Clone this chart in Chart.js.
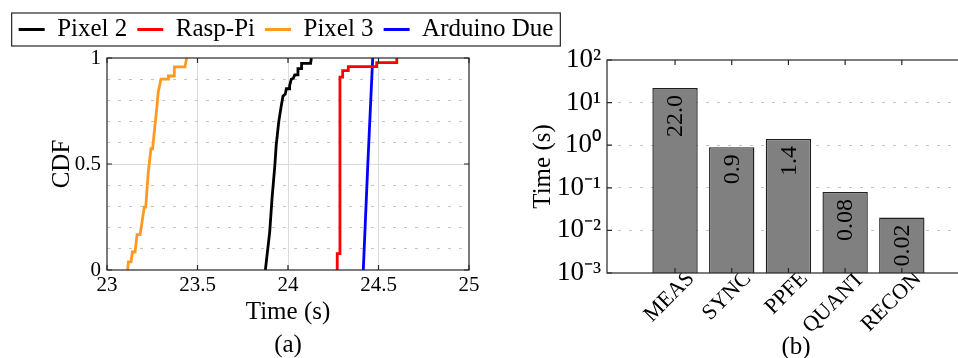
<!DOCTYPE html>
<html>
<head>
<meta charset="utf-8">
<script src="https://cdn.jsdelivr.net/npm/chart.js@4.4.1/dist/chart.umd.min.js"></script>
<style>
  html, body { margin: 0; padding: 0; background: #fff; overflow: hidden; }
  #wrap { position: relative; width: 958px; height: 358px; overflow: hidden; }
  #cdfBox { position: absolute; left: 0; top: 0; width: 572px; height: 358px; z-index: 2; }
  #barBox { position: absolute; left: 520px; top: 0; width: 465px; height: 358px; z-index: 1; }
</style>
</head>
<body>
<div id="wrap">
  <div id="barBox"><canvas id="barChart"></canvas></div>
  <div id="cdfBox"><canvas id="cdfChart"></canvas></div>
</div>
<script>
// ---- (a) completion-time CDF per device: staircase vertices (time in s, cumulative fraction)
const pixel2Time = [23.875, 23.899, 23.912, 23.927, 23.935, 23.949, 23.960, 23.972, 23.985, 23.991, 24.009, 24.009, 24.018, 24.030, 24.037, 24.051, 24.055, 24.073, 24.075, 24.125, 24.129, 24.133];
const pixel2Cdf  = [0,      0.18,   0.34,   0.49,   0.59,   0.70,   0.76,   0.82,   0.83,   0.855,  0.855,  0.87,   0.90,   0.905,  0.92,   0.92,   0.95,   0.95,   0.975,  0.975,  1.0,    1.0];

const raspPiTime = [24.272, 24.272, 24.287, 24.287, 24.302, 24.302, 24.333, 24.333, 24.490, 24.490, 24.601, 24.601];
const raspPiCdf  = [0,      0.077,  0.077,  0.91,   0.91,   0.94,   0.94,   0.959,  0.959,  0.978,  0.978,  1.0];

const pixel3Time = [23.114, 23.118, 23.133, 23.140, 23.155, 23.166, 23.183, 23.206, 23.214, 23.228, 23.243, 23.252, 23.265, 23.275, 23.283, 23.298, 23.339, 23.339, 23.372, 23.372, 23.431, 23.440];
const pixel3Cdf  = [0,      0.038,  0.038,  0.085,  0.085,  0.167,  0.167,  0.297,  0.297,  0.462,  0.572,  0.572,  0.682,  0.761,  0.840,  0.90,   0.90,   0.915,  0.915,  0.958,  0.958,  1.0];

const arduinoTime = [24.416, 24.441, 24.468];
const arduinoCdf  = [0,      0.5,    1.0];

const cdfXTicks = [23, 23.5, 24, 24.5, 25];
const cdfYTicks = [0, 0.5, 1];

// ---- (b) time spent in each processing stage (s), log axis
const stageNames = ['MEAS', 'SYNC', 'PPFE', 'QUANT', 'RECON'];
const stageTimes = [22.0, 0.9, 1.4, 0.08, 0.02];
const decadeValues = [1e-3, 1e-2, 1e-1, 1e0, 1e1, 1e2];
const decadeLabels = ['10\u207B\u00B3', '10\u207B\u00B2', '10\u207B\u00B9', '10\u2070', '10\u00B9', '10\u00B2'];

const serif = "'Liberation Serif', 'Times New Roman', serif";
const ink = '#262626';
const lineW = 2.8;

function toPoints(xs, ys) {
  return xs.map((x, i) => ({ x: x, y: ys[i] }));
}

function cdfSeries(label, xs, ys, color) {
  return {
    label: label,
    data: toPoints(xs, ys),
    borderColor: color,
    backgroundColor: color,
    pointBorderColor: color,
    pointBackgroundColor: color,
    pointBorderWidth: 3
  };
}

// plot frame + short inward tick marks (matlab style axes)
const boxPlugin = {
  id: 'box',
  afterDatasetsDraw(chart, args, opts) {
    const { ctx, chartArea: a } = chart;
    const len = 5;
    ctx.save();
    ctx.strokeStyle = ink;
    ctx.lineWidth = 1.2;
    ctx.beginPath();
    const xs = chart.scales[opts.x];
    xs.ticks.forEach(t => {
      const px = xs.getPixelForValue(t.value);
      ctx.moveTo(px, a.bottom); ctx.lineTo(px, a.bottom - len);
      ctx.moveTo(px, a.top); ctx.lineTo(px, a.top + len);
    });
    const ys = chart.scales[opts.y];
    ys.ticks.forEach(t => {
      const py = ys.getPixelForValue(t.value);
      ctx.moveTo(a.left, py); ctx.lineTo(a.left + len, py);
      ctx.moveTo(a.right, py); ctx.lineTo(a.right - len, py);
    });
    ctx.stroke();
    ctx.strokeRect(a.left, a.top, a.right - a.left, a.bottom - a.top);
    ctx.restore();
  }
};

// border round the legend entries + extra space below the legend
const legendFrame = {
  id: 'legendFrame',
  beforeUpdate(chart, args, opts) {
    const lg = chart.legend;
    if (lg && !lg._gapAdded) {
      const fit = lg.fit;
      lg.fit = function () { fit.call(this); this.height += opts.gap; };
      lg._gapAdded = true;
    }
  },
  afterDraw(chart, args, opts) {
    const boxes = chart.legend.legendHitBoxes;
    if (!boxes || !boxes.length) return;
    const l = Math.min(...boxes.map(b => b.left));
    const r = Math.max(...boxes.map(b => b.left + b.width));
    const t = Math.min(...boxes.map(b => b.top));
    const bt = Math.max(...boxes.map(b => b.top + b.height));
    const { ctx } = chart;
    ctx.save();
    ctx.strokeStyle = ink;
    ctx.lineWidth = 1.2;
    ctx.strokeRect(l - opts.padX, t - opts.padY, r - l + 2 * opts.padX, bt - t + 2 * opts.padY);
    ctx.restore();
  }
};

// vertical value text inside each bar, hanging from the bar top
const barValues = {
  id: 'barValues',
  afterDatasetsDraw(chart) {
    const { ctx } = chart;
    const meta = chart.getDatasetMeta(0);
    ctx.save();
    ctx.fillStyle = '#000';
    ctx.font = '24px ' + serif;
    ctx.textAlign = 'right';
    ctx.textBaseline = 'middle';
    meta.data.forEach((bar, i) => {
      const v = stageTimes[i];
      const txt = v >= 10 ? v.toFixed(1) : String(v);
      ctx.save();
      ctx.translate(bar.x + 1, bar.y + 7);
      ctx.rotate(-Math.PI / 2);
      ctx.fillText(txt, 0, 0);
      ctx.restore();
    });
    ctx.restore();
  }
};

// ===== (a) CDF =====
new Chart(document.getElementById('cdfChart'), {
  type: 'line',
  data: {
    datasets: [
      cdfSeries('Pixel 2', pixel2Time, pixel2Cdf, '#000000'),
      cdfSeries('Rasp-Pi', raspPiTime, raspPiCdf, '#ff0000'),
      cdfSeries('Pixel 3', pixel3Time, pixel3Cdf, '#ff9922'),
      cdfSeries('Arduino Due', arduinoTime, arduinoCdf, '#0000ff')
    ]
  },
  options: {
    responsive: true,
    maintainAspectRatio: false,
    animation: false,
    elements: { point: { radius: 0 }, line: { borderWidth: lineW, tension: 0 } },
    layout: { padding: { top: 7, left: 0, right: 0, bottom: 0 } },
    plugins: {
      tooltip: { enabled: false },
      legend: {
        position: 'top',
        labels: {
          color: '#000',
          font: { family: serif, size: 25 },
          usePointStyle: true,
          pointStyle: 'line',
          pointStyleWidth: 26,
          padding: 10
        }
      },
      legendFrame: { gap: 6, padX: 7, padY: 4 },
      box: { x: 'x', y: 'y' }
    },
    scales: {
      x: {
        type: 'linear',
        min: 23,
        max: 25,
        afterBuildTicks: s => { s.ticks = cdfXTicks.map(v => ({ value: v })); },
        ticks: { color: '#000', font: { family: serif, size: 21 }, padding: 3, maxRotation: 0, callback: (v, i) => String(cdfXTicks[i]) },
        grid: { color: c => (c.tick && (c.tick.value === 23 || c.tick.value === 25)) ? 'rgba(0,0,0,0)' : '#dcdcdc', drawTicks: false },
        border: { display: false },
        title: {
          display: true,
          text: ['Time (s)', '(a)'],
          color: '#000',
          font: { family: serif, size: 25, lineHeight: 1.32 },
          padding: { top: 0, bottom: -4 }
        },
        afterFit: s => { s.height = 88; }
      },
      y: {
        min: 0,
        max: 1,
        afterBuildTicks: s => { s.ticks = cdfYTicks.map(v => ({ value: v })); },
        ticks: { color: '#000', font: { family: serif, size: 21 }, padding: 6, callback: (v, i) => String(cdfYTicks[i]) },
        grid: { color: c => (c.tick && c.tick.value === 0.5) ? '#dcdcdc' : 'rgba(0,0,0,0)', drawTicks: false },
        border: { display: false },
        title: { display: true, text: 'CDF', color: '#000', font: { family: serif, size: 25 }, padding: { top: 47, bottom: 0 } },
        afterFit: s => { s.width = 107; }
      },
      // dotted minor grid every 0.1
      yMinor: {
        position: 'right',
        min: 0,
        max: 1,
        ticks: { display: false, stepSize: 0.1 },
        grid: {
          color: c => (c.tick && Math.round(c.tick.value * 10) % 5 === 0) ? 'rgba(0,0,0,0)' : '#c4c4c4',
          drawTicks: false
        },
        border: { display: false, dash: [3, 8] },
        afterFit: s => { s.width = 103; }
      }
    }
  },
  plugins: [legendFrame, boxPlugin]
});

// ===== (b) stage times =====
new Chart(document.getElementById('barChart'), {
  type: 'bar',
  data: {
    datasets: [{
      data: stageTimes.map((v, i) => ({ x: i + 1, y: v })),
      backgroundColor: '#808080',
      borderColor: '#1e1e1e',
      borderWidth: 1.4,
      categoryPercentage: 1,
      barPercentage: 0.8
    }]
  },
  options: {
    responsive: true,
    maintainAspectRatio: false,
    animation: false,
    layout: { padding: { top: 60, left: 0, right: 0, bottom: 0 } },
    plugins: {
      legend: { display: false },
      tooltip: { enabled: false },
      box: { x: 'x', y: 'y' }
    },
    scales: {
      x: {
        type: 'linear',
        offset: false,
        min: -0.2,
        max: 6.467,
        afterBuildTicks: s => { s.ticks = stageNames.map((n, i) => ({ value: i + 1 })); },
        ticks: {
          color: '#000',
          font: { family: serif, size: 22 },
          callback: (v, i) => stageNames[i],
          minRotation: 45,
          maxRotation: 45,
          autoSkip: false,
          labelOffset: 16,
          padding: -7
        },
        grid: { display: false, drawTicks: false, offset: false },
        border: { display: false },
        title: { display: true, text: '(b)', color: '#000', font: { family: serif, size: 25 }, padding: { top: 0, bottom: -4 } },
        afterFit: s => { s.height = 85; s.paddingLeft = 0; s.paddingRight = 0; }
      },
      y: {
        type: 'logarithmic',
        min: 1e-3,
        max: 1e2,
        afterBuildTicks: s => { s.ticks = decadeValues.map(v => ({ value: v })); },
        ticks: { color: '#000', font: { family: serif, size: 27 }, padding: 6, callback: (v, i) => decadeLabels[i] },
        grid: {
          color: c => (c.tick && c.tick.value > 1e-3 && c.tick.value < 1e2) ? '#c4c4c4' : 'rgba(0,0,0,0)',
          drawTicks: false
        },
        border: { display: false, dash: [3, 8] },
        title: { display: true, text: 'Time (s)', color: '#000', font: { family: serif, size: 25 }, padding: { top: 8, bottom: 0 } },
        afterFit: s => { s.width = 87; }
      }
    }
  },
  plugins: [boxPlugin, barValues]
});
</script>
</body>
</html>
